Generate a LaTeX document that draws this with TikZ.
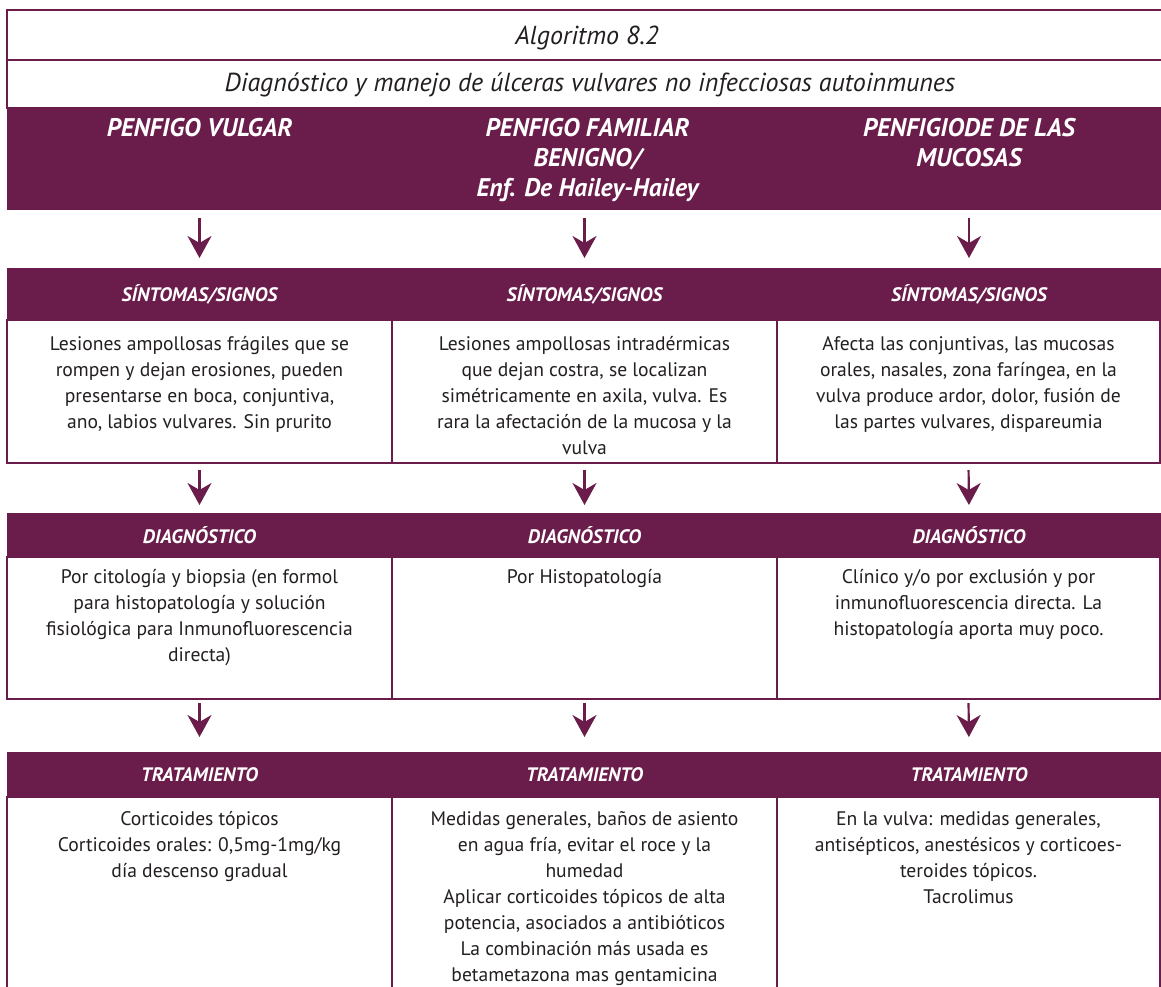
\documentclass[tikz,border=0pt]{standalone}
\usepackage{fontspec}
\setmainfont{PT Sans}
\usetikzlibrary{positioning,arrows.meta}

\definecolor{plum}{RGB}{106,28,74}
\definecolor{ink}{RGB}{35,31,32}

\newcommand{\bodyfont}{\fontsize{19.6}{26}\selectfont}
\newcommand{\headfont}{\fontsize{25.5}{30}\selectfont\bfseries\itshape}
\newcommand{\bandfont}{\fontsize{19.5}{22}\selectfont\bfseries\itshape}
\newcommand{\titlefont}{\fontsize{26}{30}\selectfont\itshape}

\begin{document}
\begin{tikzpicture}[x=1pt,y=-1pt,
  frame/.style={draw=plum, line width=2pt, fill=white, anchor=north west,
    inner sep=0pt, outer sep=0pt},
  titlebox/.style={frame, minimum width=1156pt},
  titletext/.style={text=ink, font=\titlefont, inner sep=0pt},
  head/.style={fill=plum, draw=none, anchor=north west, inner sep=0pt,
    outer sep=0pt, minimum height=102pt},
  headtext/.style={text=white, font=\headfont, align=center, inner sep=0pt},
  band/.style={fill=plum, draw=none, anchor=north west, inner sep=0pt,
    outer sep=0pt, text=white, font=\bandfont},
  box/.style={frame},
  bodytext/.style={text=ink, font=\bodyfont, align=center, inner sep=0pt},
  flow/.style={draw=plum, line width=2.2pt,
    -{Stealth[length=22pt, width=24pt, inset=7pt]}},
]
\useasboundingbox (0,0) rectangle (1161,987);
\clip (0,0) rectangle (1161,987);

% title rows
\node[titlebox, minimum height=50pt] (ttl) at (7,10) {};
\node[titlebox, minimum height=48pt] (sub) at (7,60) {};
\node[titletext] (ttlt) at (587,38) {Algoritmo 8.2};
\node[titletext] (subt) at (590,85)
  {Diagnóstico y manejo de úlceras vulvares no infecciosas autoinmunes};

% disease headers
\node[head, minimum width=385pt] (h1) at (7,108) {};
\node[head, minimum width=385pt] (h2) at (392,108) {};
\node[head, minimum width=384pt] (h3) at (777,108) {};
\node[headtext, below=10pt of h1.north] (ht1) {PENFIGO VULGAR};
\node[headtext, below=10pt of h2.north, xshift=3pt] (ht2)
  {PENFIGO FAMILIAR\\BENIGNO/\\Enf. De Hailey-Hailey};
\node[headtext, below=10pt of h3.north] (ht3) {PENFIGIODE DE LAS\\MUCOSAS};

% symptoms row
\node[band, minimum width=385pt, minimum height=52pt] (s1) at (7,268) {SÍNTOMAS/SIGNOS};
\node[band, minimum width=385pt, minimum height=52pt] (s2) at (392,268) {SÍNTOMAS/SIGNOS};
\node[band, minimum width=384pt, minimum height=52pt] (s3) at (777,268) {SÍNTOMAS/SIGNOS};
\node[box, minimum width=385pt, minimum height=143pt] (bs1) at (7,320) {};
\node[box, minimum width=385pt, minimum height=143pt] (bs2) at (392,320) {};
\node[box, minimum width=383pt, minimum height=143pt] (bs3) at (777,320) {};
\node[bodytext, below=16pt of bs1.north] (ts1)
  {Lesiones ampollosas frágiles que se\\rompen y dejan erosiones, pueden\\presentarse en boca, conjuntiva,\\ano, labios vulvares. Sin prurito};
\node[bodytext, below=16pt of bs2.north] (ts2)
  {Lesiones ampollosas intradérmicas\\que dejan costra, se localizan\\simétricamente en axila, vulva. Es\\rara la afectación de la mucosa y la\\vulva};
\node[bodytext, below=16pt of bs3.north] (ts3)
  {Afecta las conjuntivas, las mucosas\\orales, nasales, zona faríngea, en la\\vulva produce ardor, dolor, fusión de\\las partes vulvares, dispareumia};

% diagnosis row
\node[band, minimum width=385pt, minimum height=44pt] (d1) at (7,513) {DIAGNÓSTICO};
\node[band, minimum width=385pt, minimum height=44pt] (d2) at (392,513) {DIAGNÓSTICO};
\node[band, minimum width=384pt, minimum height=44pt] (d3) at (777,513) {DIAGNÓSTICO};
\node[box, minimum width=385pt, minimum height=142pt] (bd1) at (7,557) {};
\node[box, minimum width=385pt, minimum height=142pt] (bd2) at (392,557) {};
\node[box, minimum width=383pt, minimum height=142pt] (bd3) at (777,557) {};
\node[bodytext, below=12pt of bd1.north] (td1)
  {Por citología y biopsia (en formol\\para histopatología y solución\\fisiológica para Inmunofluorescencia\\directa)};
\node[bodytext, below=12pt of bd2.north] (td2) {Por Histopatología};
\node[bodytext, below=12pt of bd3.north] (td3)
  {Clínico y/o por exclusión y por\\inmunofluorescencia directa. La\\histopatología aporta muy poco.};

% treatment row
\node[band, minimum width=385pt, minimum height=45pt] (r1) at (7,752) {TRATAMIENTO};
\node[band, minimum width=385pt, minimum height=45pt] (r2) at (392,752) {TRATAMIENTO};
\node[band, minimum width=384pt, minimum height=45pt] (r3) at (777,752) {TRATAMIENTO};
\node[box, minimum width=385pt, minimum height=210pt] (bt1) at (7,797) {};
\node[box, minimum width=385pt, minimum height=210pt] (bt2) at (392,797) {};
\node[box, minimum width=383pt, minimum height=210pt] (bt3) at (777,797) {};
\node[bodytext, below=14pt of bt1.north] (tt1)
  {Corticoides tópicos\\Corticoides orales: 0,5mg-1mg/kg\\día descenso gradual};
\node[bodytext, below=14pt of bt2.north] (tt2)
  {Medidas generales, baños de asiento\\en agua fría, evitar el roce y la\\humedad\\Aplicar corticoides tópicos de alta\\potencia, asociados a antibióticos\\La combinación más usada es\\betametazona mas gentamicina};
\node[bodytext, below=14pt of bt3.north] (tt3)
  {En la vulva: medidas generales,\\antisépticos, anestésicos y corticoes-\\teroides tópicos.\\Tacrolimus};

% connectors
\foreach \c in {1,2,3} {
  \draw[flow, shorten <=8pt, shorten >=10pt] (h\c.south) -- (s\c.north);
  \draw[flow, shorten <=7pt, shorten >=8pt] (bs\c.south) -- (d\c.north);
  \draw[flow, shorten <=4pt, shorten >=15pt] (bd\c.south) -- (r\c.north);
}
\end{tikzpicture}
\end{document}
